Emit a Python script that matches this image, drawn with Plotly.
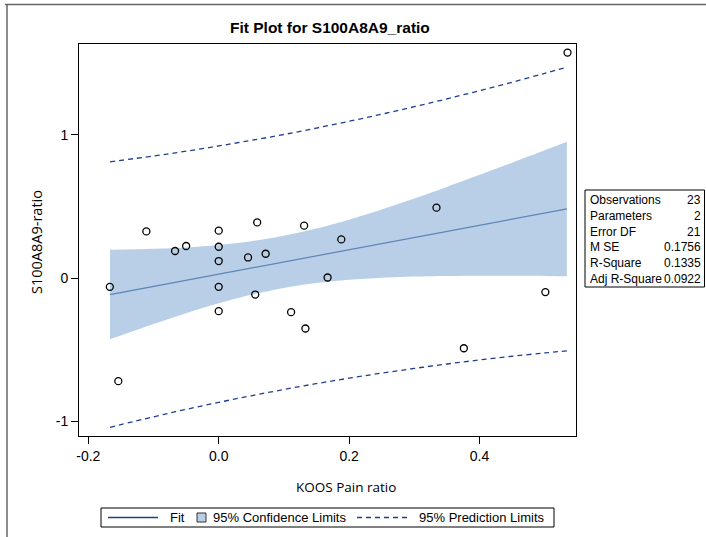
import plotly.graph_objects as go

# ---- data ----
koos_pain = [-0.167, -0.154, -0.111, -0.067, -0.050, 0.0, 0.0, 0.0, 0.0, 0.0,
             0.059, 0.045, 0.072, 0.056, 0.131, 0.111, 0.133, 0.188, 0.167,
             0.334, 0.501, 0.376, 0.535]
s100 = [-0.061, -0.720, 0.326, 0.189, 0.224, 0.331, 0.219, 0.119, -0.061, -0.231,
        0.389, 0.144, 0.170, -0.115, 0.366, -0.238, -0.352, 0.270, 0.004,
        0.492, -0.098, -0.490, 1.575]

band_x = [-0.1668, -0.1, -0.05, 0.0, 0.05, 0.1, 0.15, 0.2, 0.25, 0.3, 0.35, 0.4, 0.45, 0.5, 0.534]
fit_y = [-0.115, -0.058, -0.015, 0.027, 0.070, 0.113, 0.155, 0.198, 0.241, 0.283, 0.326, 0.369, 0.411, 0.454, 0.483]
ci_upper = [0.198, 0.205, 0.214, 0.231, 0.257, 0.295, 0.346, 0.408, 0.479, 0.556, 0.637, 0.721, 0.806, 0.893, 0.952]
ci_lower = [-0.428, -0.321, -0.245, -0.176, -0.117, -0.069, -0.035, -0.012, 0.002, 0.011, 0.015, 0.017, 0.016, 0.015, 0.013]
pi_upper = [0.812, 0.853, 0.886, 0.923, 0.962, 1.003, 1.048, 1.095, 1.145, 1.197, 1.252, 1.309, 1.368, 1.430, 1.473]
pi_lower = [-1.042, -0.969, -0.917, -0.868, -0.822, -0.778, -0.737, -0.699, -0.664, -0.631, -0.600, -0.572, -0.546, -0.523, -0.508]

x_ticks = [-0.2, 0.0, 0.2, 0.4]
y_ticks = [-1, 0, 1]

stat_labels = ["Observations", "Parameters", "Error DF", "M SE", "R-Square", "Adj R-Square"]
stat_values = ["23", "2", "21", "0.1756", "0.1335", "0.0922"]

# ---- styles ----
W, H = 706, 537
L, R, T, B = 79, 576, 44, 436
FILL = "#b9cfe7"
FITC = "#5e83b8"
PIC = "#1f3f8c"
FONT = "Liberation Sans, Arial, sans-serif"


def px(x):
    return (x - L) / (R - L)


def py(y):
    return (B - y) / (B - T)


fig = go.Figure()

fig.add_trace(go.Scatter(x=band_x, y=ci_lower, mode="lines",
                         line=dict(width=0, color=FILL, shape="spline", smoothing=0.8),
                         hoverinfo="skip", showlegend=False))
fig.add_trace(go.Scatter(x=band_x, y=ci_upper, mode="lines", fill="tonexty", fillcolor=FILL,
                         line=dict(width=0, color=FILL, shape="spline", smoothing=0.8),
                         hoverinfo="skip", showlegend=False))
fig.add_trace(go.Scatter(x=band_x, y=fit_y, mode="lines",
                         line=dict(color=FITC, width=1.2), showlegend=False))
fig.add_trace(go.Scatter(x=band_x, y=pi_upper, mode="lines",
                         line=dict(color=PIC, width=1.3, dash="5px,4px", shape="spline"),
                         showlegend=False))
fig.add_trace(go.Scatter(x=band_x, y=pi_lower, mode="lines",
                         line=dict(color=PIC, width=1.3, dash="5px,4px", shape="spline"),
                         showlegend=False))
fig.add_trace(go.Scatter(x=koos_pain, y=s100, mode="markers",
                         marker=dict(symbol="circle-open", size=7, color="black",
                                     line=dict(width=1.3, color="black")),
                         showlegend=False))

axis_common = dict(showline=True, linecolor="black", linewidth=1, mirror=True,
                   ticks="outside", ticklen=7, tickwidth=1, tickcolor="black",
                   showgrid=False, zeroline=False,
                   tickfont=dict(family=FONT, size=14, color="black"))

fig.update_xaxes(range=[-0.2143, 0.548], tickvals=x_ticks,
                 ticktext=[f"{v:.1f}" for v in x_ticks], **axis_common)
fig.update_yaxes(range=[-1.103, 1.635], tickvals=y_ticks,
                 ticktext=[str(v) for v in y_ticks], **axis_common)

annotations = [
    dict(text="<b>Fit Plot for S100A8A9_ratio</b>", x=px(330), y=py(28), xref="paper", yref="paper",
         showarrow=False, font=dict(family=FONT, size=15.5, color="black"), xanchor="center", yanchor="middle"),
    dict(text="KOOS Pain ratio", x=px(346), y=py(487), xref="paper", yref="paper",
         showarrow=False, font=dict(family="Open Sans, sans-serif", size=13.5, color="black"),
         xanchor="center", yanchor="middle"),
    dict(text="S100A8A9-ratio", x=px(37), y=py(242), xref="paper", yref="paper", textangle=-90,
         showarrow=False, font=dict(family="Open Sans, sans-serif", size=14.5, color="black"),
         xanchor="center", yanchor="middle"),
]

shapes = [
    # page frame (top and left)
    dict(type="line", xref="paper", yref="paper", x0=px(5), x1=px(706), y0=py(4.5), y1=py(4.5),
         line=dict(color="#666", width=1.5)),
    dict(type="line", xref="paper", yref="paper", x0=px(7), x1=px(7), y0=py(4.5), y1=py(537),
         line=dict(color="#666", width=1.5)),
    # stats box
    dict(type="rect", xref="paper", yref="paper", x0=px(585), x1=px(704.5), y0=py(190), y1=py(287),
         line=dict(color="black", width=1)),
]

row_y = [200, 215.8, 231.5, 247.2, 262.9, 278.6]
for lab, val, yy in zip(stat_labels, stat_values, row_y):
    annotations.append(dict(text=lab, x=px(588), y=py(yy), xref="paper", yref="paper", showarrow=False,
                            xanchor="left", yanchor="middle",
                            font=dict(family=FONT, size=12, color="black")))
    annotations.append(dict(text=val, x=px(703), y=py(yy), xref="paper", yref="paper", showarrow=False,
                            xanchor="right", yanchor="middle",
                            font=dict(family=FONT, size=12, color="black")))

# legend (drawn manually)
LY = 517.5
shapes += [
    dict(type="rect", xref="paper", yref="paper", x0=px(101), x1=px(554), y0=py(508), y1=py(527),
         line=dict(color="black", width=1)),
    dict(type="line", xref="paper", yref="paper", x0=px(108), x1=px(158), y0=py(LY), y1=py(LY),
         line=dict(color=PIC, width=1.3)),
    dict(type="rect", xref="paper", yref="paper", x0=px(197), x1=px(206), y0=py(513), y1=py(522),
         line=dict(color="#333", width=1), fillcolor=FILL),
    dict(type="line", xref="paper", yref="paper", x0=px(357), x1=px(407), y0=py(LY), y1=py(LY),
         line=dict(color=PIC, width=1.3, dash="5px,4px")),
]
for txt, xx in [("Fit", 168), ("95% Confidence Limits", 211), ("95% Prediction Limits", 417)]:
    annotations.append(dict(text=txt, x=px(xx), y=py(LY), xref="paper", yref="paper", showarrow=False,
                            xanchor="left", yanchor="middle",
                            font=dict(family=FONT, size=13, color="black")))

fig.update_layout(
    width=W, height=H,
    margin=dict(l=L, r=W - R, t=T, b=H - B, pad=0),
    paper_bgcolor="white", plot_bgcolor="white",
    showlegend=False,
    annotations=annotations, shapes=shapes,
)

fig.write_html("out.html")
